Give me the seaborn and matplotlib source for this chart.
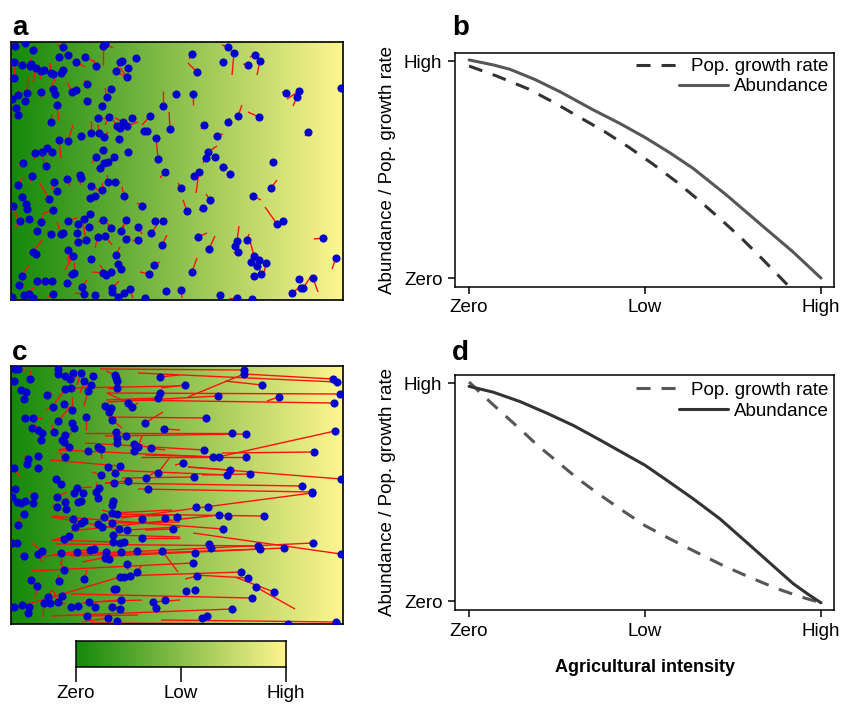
import numpy as np
import matplotlib
matplotlib.use("Agg")
import matplotlib.pyplot as plt
from matplotlib.collections import LineCollection
from matplotlib.colors import LinearSegmentedColormap
import seaborn as sns

# ---------------- data ----------------
# Panel a: individuals (x, y in landscape units, y downward) and start of their movement
a_pts = [(4,4),(14,1),(22,8),(52,5),(48,15),(57,13),(65,20),(74,15),(85,24),(92,4),(94,2),(3,20),(11,23),(19,24),(20,22),
 (25,26),(30,29),(33,28),(40,31),(42,32),(50,31),(52,28),(3,36),(16,51),(30,50),(42,47),(44,52),(7,53),(1,57),(14,59),
 (5,66),(7,73),(46,63),(40,80),(61,50),(65,48),(76,42),(76,59),(96,55),(100,47),(91,64),(87,76),(98,75),(80,91),(88,91),
 (93,95),(70,94),(57,99),(48,98),(106,84),(109,86),(112,80),(116,84),(121,76),(108,97),(105,29),(109,20),(111,19),(117,26),
 (116,35),(125,16),(139,74),(133,89),(136,89),(145,96),(147,117),(152,64),(159,87),(165,52),(24,111),(31,110),(36,106),
 (41,110),(35,124),(12,121),(85,115),(92,108),(93,121),(97,120),(103,115),(117,110),(89,126),
 (7,143),(21,134),(43,140),(46,149),(38,157),(56,137),(70,136),(69,133),(80,144),(91,148),(97,140),(104,140),(84,154),
 (79,156),(113,154),(131,164),(154,130),(11,155),(2,164),(15,162),(16,167),(9,179),(18,177),(42,168),(30,180),(26,189),
 (40,192),(50,192),(52,191),(57,179),(67,182),(73,177),(79,172),(78,185),(75,198),(66,191),(67,200),(87,195),(92,178),
 (100,186),(94,194),(110,189),(115,178),(115,197),(127,198),(127,185),(144,179),(152,179),(140,191),(151,203),(22,210),
 (25,212),(57,208),(62,214),(63,231),(61,232),(80,217),(105,213),(107,222),(110,227),(92,231),(95,233),(100,230),
 (101,246),(101,250),(113,251),(119,247),(107,255),(134,256),(138,232),(143,223),(155,249),(11,234),(26,239),(34,239),
 (41,239),(8,243),(13,253),(18,252),(22,256),(1,255),(42,252),(56,241),(71,245),(73,252),(84,253),
 (181,12),(186,30),(217,5),(223,11),(212,20),(237,23),(244,13),(249,19),(182,52),(227,74),(248,75),(217,80),(193,83),
 (206,94),(197,110),(195,116),(204,115),(212,125),(262,120),(275,51),(288,49),(286,55),(297,90),(330,46),
 (219,132),(188,130),(183,134),(170,146),(176,169),(199,158),(192,166),(242,154),(260,146),(266,182),(272,179),
 (187,195),(198,207),(226,199),(224,204),(227,210),(236,198),(243,214),(240,220),(248,218),(246,224),(255,221),
 (250,232),(243,234),(181,230),(170,248),(209,253),(226,256),(241,257),(312,196),(325,216),(288,237),(302,236),
 (292,246),(290,246),(281,251)]
a_ends = [(1,1),(16,3),(27,6),(46,3),(48,15),(57,13),(74,25),(84,20),(82,18),(92,23),(102,6),(9,21),(11,23),(20,16),(20,22),
 (22,40),(29,38),(33,28),(39,21),(44,40),(50,31),(49,26),(4,25),(17,35),(30,56),(41,40),(46,56),(8,48),(1,57),(17,61),
 (10,70),(2,73),(48,79),(41,72),(56,40),(62,46),(73,38),(81,58),(94,46),(100,47),(93,60),(94,76),(94,83),(80,79),(87,83),
 (97,90),(70,94),(62,83),(50,116),(102,78),(109,86),(104,76),(127,80),(121,76),(111,100),(116,36),(107,26),(111,19),(117,26),
 (109,26),(125,16),(131,83),(131,91),(136,89),(147,116),(147,117),(152,49),(158,70),(165,52),(23,118),(33,121),(32,111),
 (36,113),(35,124),(7,123),(81,121),(94,113),(93,121),(96,125),(103,115),(121,109),(89,126),
 (11,136),(19,140),(41,147),(46,149),(29,141),(59,144),(69,143),(69,133),(91,150),(91,140),(96,133),(109,140),(76,155),
 (79,156),(111,145),(126,161),(149,136),(14,160),(7,178),(15,162),(16,167),(4,186),(18,177),(31,172),(32,173),(26,189),
 (36,190),(46,180),(52,191),(66,176),(71,178),(73,177),(74,176),(78,185),(72,181),(66,191),(62,200),(84,206),(87,180),
 (96,181),(101,203),(112,183),(112,186),(119,194),(121,198),(131,192),(144,179),(152,179),(146,183),(156,193),(31,198),
 (25,212),(57,220),(54,228),(63,220),(56,233),(80,217),(109,205),(107,222),(110,227),(81,230),(89,223),(100,230),
 (108,239),(101,250),(113,251),(122,256),(107,255),(134,256),(129,230),(149,220),(155,249),(18,223),(26,239),(27,243),
 (41,239),(14,245),(24,245),(18,252),(21,251),(1,255),(37,255),(61,241),(76,238),(64,251),(84,253),
 (178,17),(177,21),(211,3),(221,33),(212,20),(232,22),(239,15),(246,33),(182,63),(231,63),(237,70),(219,76),(190,87),
 (212,92),(206,104),(192,121),(204,115),(217,126),(262,120),(271,50),(276,57),(282,64),(294,94),(330,46),
 (219,132),(185,151),(183,134),(167,141),(172,158),(195,152),(188,168),(250,158),(266,138),(254,165),(272,179),
 (196,191),(204,194),(228,184),(224,204),(222,210),(238,192),(238,195),(240,220),(249,230),(246,224),(252,236),
 (250,232),(241,236),(186,216),(171,256),(209,253),(218,256),(241,257),(303,197),(321,227),(292,235),(307,250),
 (301,233),(290,246),(289,245)]

# Panel c: same landscape after agricultural intensification (long-distance movements)
c_pts = [(4,3),(7,3),(3,15),(19,13),(10,24),(15,26),(13,33),(36,29),(47,3),(47,8),(54,10),(59,13),(62,7),(70,7),(73,15),
 (82,10),(80,19),(60,22),(54,23),(77,25),(53,38),(42,41),(61,44),(14,52),(22,52),(21,62),(27,64),(31,67),(30,74),(43,66),
 (47,55),(61,57),(63,62),(75,51),(54,69),(51,74),(53,76),(58,81),(54,91),(77,85),(87,81),(90,83),(94,40),(100,42),(98,46),
 (101,54),(104,9),(105,12),(106,15),(106,22),(117,37),(121,41),(134,57),(149,11),(149,27),(147,32),(153,63),(105,66),
 (115,70),(106,72),(106,77),(123,78),(127,81),(123,85),(140,82),(109,100),(97,101),(90,109),(104,107),(117,115),(103,117),
 (135,112),(147,107),(137,123),(3,102),(27,102),(16,98),(17,93),(27,90),(45,113),(50,118),(4,123),(66,122),(88,122),
 (85,126),(72,127),(63,127),
 (233,4),(233,8),(322,13),(326,16),(174,19),(251,19),(207,30),(268,31),(329,28),(323,37),(195,52),(221,67),(235,68),
 (324,65),(193,84),(202,91),(208,91),(235,91),(303,86),(172,97),(219,104),(216,109),(239,108),(183,111),(330,113),
 (291,120),(301,126),
 (1,131),(6,136),(10,137),(14,135),(22,137),(23,130),(13,148),(7,159),(46,131),(54,136),(46,141),(55,143),(67,136),
 (70,135),(87,132),(62,153),(70,157),(73,155),(64,161),(87,158),(91,161),(93,151),(101,147),(106,148),(101,139),
 (102,135),(101,157),(108,163),(116,164),(102,169),(102,176),(109,177),(113,176),(131,153),(154,152),(166,151),
 (162,163),(131,172),(126,185),(110,186),(95,186),(94,192),(98,193),(83,183),(79,184),(66,186),(58,170),(53,173),
 (31,185),(27,188),(13,190),(50,187),(53,204),(1,177),(6,177),(151,185),(116,198),(109,211),(113,211),(119,210),
 (126,206),(73,213),(48,215),(103,223),(105,223),(20,214),(26,220),(37,231),(33,237),(39,237),(47,236),(51,230),
 (60,241),(67,240),(78,236),(84,241),(101,241),(110,234),(109,243),(142,236),(154,234),(145,242),(3,241),(11,239),
 (18,241),(17,247),(76,250),(97,252),(106,255),
 (301,127),(185,141),(197,141),(208,149),(217,150),(253,150),(212,163),(198,178),(200,182),(184,187),(247,180),
 (249,183),(273,182),(302,177),(330,188),(182,197),(230,206),(237,212),(186,210),(245,221),(263,226),(175,225),
 (184,224),(241,232),(221,243),(191,252),(196,250),(277,258),(325,256)]
c_ends = [(10,4),(14,4),(3,15),(19,4),(14,24),(15,26),(13,33),(41,27),(47,6),(47,8),(57,7),(66,11),(64,12),(66,19),(69,27),
 (79,7),(72,22),(169,20),(44,37),(73,40),(59,44),(34,44),(61,31),(19,53),(31,52),(21,62),(24,57),(32,67),(30,74),(41,59),
 (59,41),(61,57),(59,56),(75,64),(61,67),(51,74),(61,82),(48,84),(48,86),(81,89),(87,81),(91,93),(91,37),(100,42),(98,46),
 (111,62),(95,5),(105,12),(106,15),(96,22),(96,27),(127,37),(152,46),(168,9),(149,27),(95,34),(169,64),(101,66),
 (111,70),(106,72),(106,77),(132,79),(131,70),(123,85),(154,84),(39,94),(94,101),(81,106),(104,107),(94,117),(103,117),
 (147,104),(159,91),(137,123),(9,111),(26,101),(14,89),(17,93),(27,90),(49,112),(44,114),(4,123),(81,121),(88,122),
 (85,116),(72,127),(63,127),
 (89,3),(177,31),(233,8),(127,7),(150,22),(214,15),(97,36),(256,35),(96,27),(111,34),(97,51),(74,67),(94,70),
 (207,91),(74,77),(47,84),(134,89),(130,91),(211,87),(164,99),(177,101),(97,104),(191,109),(111,112),(177,101),
 (94,117),(127,123),
 (1,131),(6,136),(10,137),(14,135),(22,137),(19,126),(16,152),(9,152),(56,126),(57,131),(41,139),(55,143),(67,136),
 (70,135),(87,132),(66,159),(70,157),(73,155),(71,159),(97,161),(91,161),(169,149),(161,144),(91,144),(101,134),
 (102,135),(169,156),(41,151),(169,161),(169,171),(41,174),(109,177),(113,176),(131,153),(154,152),(166,151),
 (134,164),(169,172),(71,196),(71,187),(95,186),(94,192),(98,193),(41,189),(79,184),(66,186),(41,174),(53,173),
 (21,177),(31,196),(9,187),(51,196),(49,195),(1,177),(6,177),(167,206),(117,204),(14,239),(113,211),(119,210),
 (131,199),(76,204),(47,209),(101,227),(105,223),(17,211),(24,232),(41,224),(32,251),(54,237),(42,224),(54,232),
 (71,239),(67,240),(131,234),(84,241),(111,242),(71,237),(109,243),(169,234),(154,234),(145,242),(3,241),(11,239),
 (18,241),(17,247),(127,249),(71,256),(106,255),
 (110,152),(185,141),(197,141),(60,165),(217,150),(100,148),(40,150),(198,178),(30,190),(184,187),(45,178),
 (60,190),(100,190),(197,182),(182,167),(20,205),(110,210),(184,209),(174,213),(284,243),(224,211),(175,225),
 (184,224),(60,228),(40,250),(191,252),(196,250),(80,257),(150,254)]

# Panels b and d: response curves (0 = zero, 1 = high)
b_x_abund = [0.0, 0.069, 0.116, 0.187, 0.259, 0.354, 0.429, 0.5, 0.571, 0.637, 0.732, 0.826, 0.921, 1.0]
b_y_abund = [1.005, 0.982, 0.962, 0.915, 0.858, 0.774, 0.712, 0.648, 0.577, 0.505, 0.382, 0.251, 0.12, 0.0]
b_x_growth = [0.0, 0.08, 0.169, 0.241, 0.315, 0.384, 0.455, 0.521, 0.59, 0.652, 0.713, 0.775, 0.831, 0.895, 0.91]
b_y_growth = [0.977, 0.93, 0.871, 0.809, 0.740, 0.676, 0.602, 0.527, 0.443, 0.360, 0.274, 0.182, 0.092, -0.015, -0.04]
d_x_abund = [0.0, 0.069, 0.145, 0.221, 0.297, 0.373, 0.449, 0.5, 0.562, 0.637, 0.713, 0.789, 0.865, 0.921, 0.96, 1.0]
d_y_abund = [0.985, 0.958, 0.915, 0.862, 0.805, 0.738, 0.669, 0.623, 0.554, 0.469, 0.377, 0.269, 0.16, 0.08, 0.035, -0.008]
d_x_growth = [0.0, 0.05, 0.098, 0.145, 0.192, 0.249, 0.306, 0.363, 0.429, 0.5, 0.571, 0.647, 0.723, 0.799, 0.875, 0.941, 1.0]
d_y_growth = [1.005, 0.928, 0.857, 0.789, 0.718, 0.642, 0.565, 0.497, 0.423, 0.346, 0.285, 0.223, 0.162, 0.108, 0.057, 0.02, -0.008]

intensity_ticks = [0.0, 0.5, 1.0]
intensity_labels = ["Zero", "Low", "High"]
value_ticks = [0.0, 1.0]
value_labels = ["Zero", "High"]
legend_labels = ["Pop. growth rate", "Abundance"]

# ---------------- style ----------------
sns.set_style("ticks")
plt.rcParams['font.family'] = ['Liberation Sans', 'DejaVu Sans']
plt.rcParams['axes.linewidth'] = 1.1
for k in ['text.color', 'axes.labelcolor', 'xtick.color', 'ytick.color', 'axes.edgecolor']:
    plt.rcParams[k] = 'black'

W, H = 841, 705
fig = plt.figure(figsize=(W / 100, H / 100), dpi=100)

def fax(x0, y0, x1, y1):
    return fig.add_axes([x0 / W, 1 - y1 / H, (x1 - x0) / W, (y1 - y0) / H])

cmap = LinearSegmentedColormap.from_list("agri", ["#14890a", "#8bc04c", "#fff68f"])
grad = np.linspace(0, 1, 256)[None, :]
MAP_W, MAP_H = 332, 258

def map_panel(ax, pts, ends):
    ax.imshow(grad, cmap=cmap, aspect="auto", extent=[0, MAP_W, MAP_H, 0], zorder=0)
    pts = np.array(pts, float)
    ends = np.array(ends, float)
    segs = np.stack([pts, ends], axis=1)
    ax.add_collection(LineCollection(segs, colors="#ff1010", linewidths=1.0, zorder=2))
    sns.scatterplot(x=pts[:, 0], y=pts[:, 1], ax=ax, color="#0000cd", s=34,
                    linewidth=0, zorder=3, legend=False)
    ax.set_xlim(0, MAP_W)
    ax.set_ylim(MAP_H, 0)
    ax.set_xticks([])
    ax.set_yticks([])
    for s in ax.spines.values():
        s.set_visible(True)
        s.set_linewidth(1.2)
        s.set_color("black")

def curve_panel(ax, xa, ya, xg, yg, col_abund, col_growth, leg_y):
    sns.lineplot(x=xg, y=yg, ax=ax, color=col_growth, lw=2.2, linestyle=(0, (4.6, 3.6)),
                 sort=False, estimator=None)
    ln_g = ax.lines[-1]
    sns.lineplot(x=xa, y=ya, ax=ax, color=col_abund, lw=2.2, sort=False, estimator=None)
    ln_a = ax.lines[-1]
    for ln in (ln_g, ln_a):
        ln.set_solid_joinstyle("round")
        ln.set_dash_joinstyle("round")
    ax.set_xlim(-0.04, 1.037)
    ax.set_ylim(-0.041, 1.037)
    ax.set_xticks(intensity_ticks)
    ax.set_xticklabels(intensity_labels)
    ax.set_yticks(value_ticks)
    ax.set_yticklabels(value_labels)
    ax.tick_params(axis="both", labelsize=13.5, length=5, width=1.1, direction="out", pad=4, colors="black")
    ax.set_ylabel("Abundance / Pop. growth rate", fontsize=13.5, labelpad=6)
    ax.set_xlabel("")
    for s in ax.spines.values():
        s.set_visible(True)
        s.set_linewidth(1.1)
        s.set_color("black")
    common = dict(frameon=False, fontsize=13.5, handlelength=2.6, handletextpad=0.33,
                  borderpad=0, borderaxespad=0, loc="center right")
    leg1 = ax.legend([ln_g], [legend_labels[0]], bbox_to_anchor=(0.986, leg_y[0]), **common)
    ax.add_artist(leg1)
    ax.legend([ln_a], [legend_labels[1]], bbox_to_anchor=(0.986, leg_y[1]), **common)

# map panels
ax_a = fax(11, 42, 343, 300)
map_panel(ax_a, a_pts, a_ends)
ax_c = fax(11, 366, 343, 624)
map_panel(ax_c, c_pts, c_ends)

# curve panels
ax_b = fax(455, 53, 834, 287)
curve_panel(ax_b, b_x_abund, b_y_abund, b_x_growth, b_y_growth, "#575757", "#333333", (0.941, 0.856))
ax_d = fax(455, 375, 834, 610)
curve_panel(ax_d, d_x_abund, d_y_abund, d_x_growth, d_y_growth, "#333333", "#575757", (0.936, 0.847))

fig.text(645 / W, 1 - 667 / H, "Agricultural intensity", ha="center", va="center",
         fontsize=13, fontweight="bold")

# colour bar
ax_cb = fax(75.7, 641, 286, 667)
ax_cb.imshow(grad, cmap=cmap, aspect="auto", extent=[0, 1, 0, 1])
ax_cb.set_xlim(0, 1)
ax_cb.set_ylim(0, 1)
ax_cb.set_yticks([])
ax_cb.set_xticks(intensity_ticks)
ax_cb.set_xticklabels(intensity_labels)
ax_cb.tick_params(axis="x", labelsize=13.5, length=11, width=1.1, direction="out", pad=2, colors="black")
for s in ax_cb.spines.values():
    s.set_visible(True)
    s.set_linewidth(1.1)
    s.set_color("black")

# panel letters
for lab, x, y in [("a", 12, 35), ("b", 452, 35), ("c", 12, 360), ("d", 452, 360)]:
    fig.text(x / W, 1 - y / H, lab, fontsize=20, fontweight="bold", ha="left", va="baseline")

fig.savefig("out.png", dpi=100)
